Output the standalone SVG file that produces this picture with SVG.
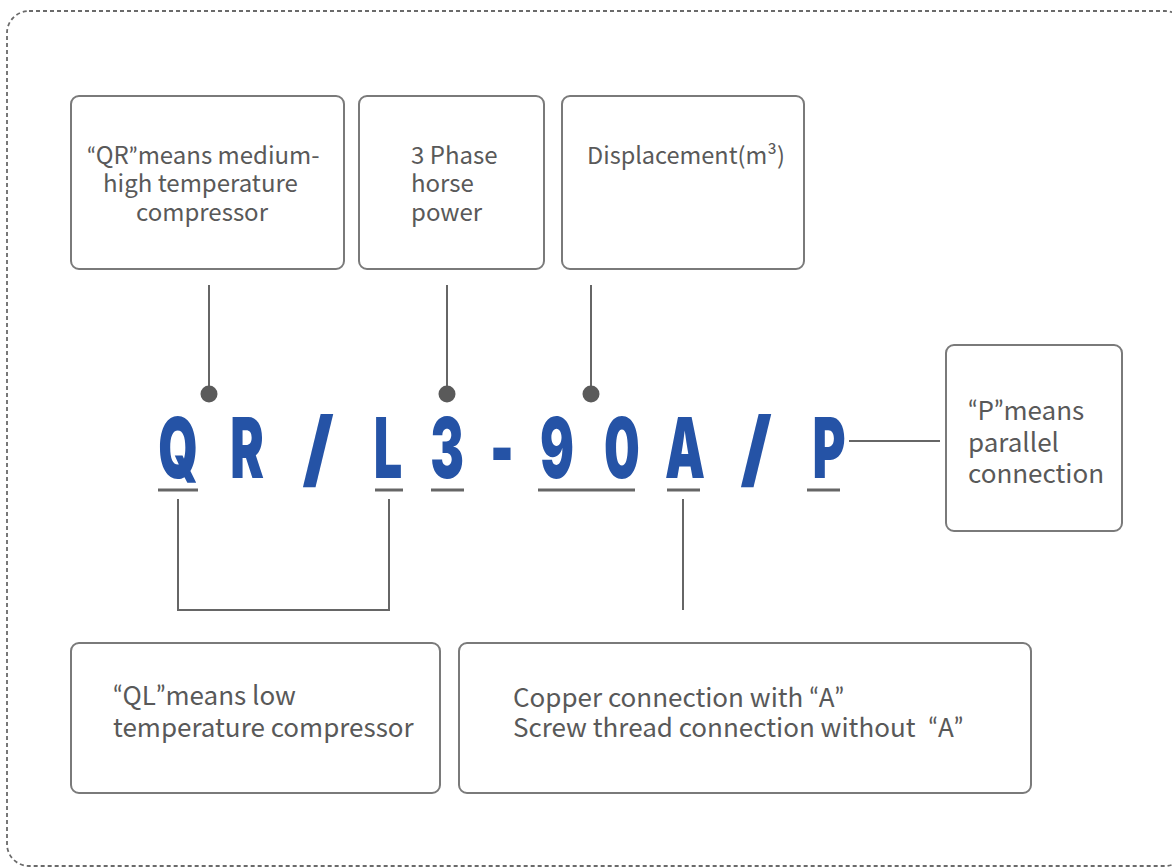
<svg xmlns="http://www.w3.org/2000/svg" width="1172" height="867" viewBox="0 0 1172 867">
<style>
.box{fill:#fff;stroke:#7a7a7a;stroke-width:2}
.t{font-family:"Noto Sans CJK SC","Noto Sans",sans-serif;font-size:26px;fill:#595959}
.s{font-size:24px}
.d{font-size:23.5px}
.q{font-family:Lato,"Liberation Sans",sans-serif}
.code{font-family:Inter,"DejaVu Sans",sans-serif;font-weight:900;font-size:84px;fill:#2553a6;text-anchor:middle}
.ln{stroke:#666;stroke-width:2;fill:none}
.ul{stroke:#666;stroke-width:3}
.dot{fill:#5a5a5a}
</style>
<rect x="0" y="0" width="1172" height="867" fill="#fff"/>
<rect x="7" y="11" width="1180" height="855" rx="22" fill="none" stroke="#6a6a6a" stroke-width="1.8" stroke-dasharray="4 3"/>

<g id="node-qr">
<rect class="box" x="71" y="96" width="273" height="173" rx="8"/>
<text class="t s" x="87" y="164"><tspan class="q">“</tspan>QR<tspan class="q">”</tspan>means medium-</text>
<text class="t s" x="103" y="192">high temperature</text>
<text class="t s" x="136" y="221">compressor</text>
</g>
<g id="node-hp">
<rect class="box" x="359" y="96" width="185" height="173" rx="8"/>
<text class="t s" x="411" y="164">3 Phase</text>
<text class="t s" x="411" y="192">horse</text>
<text class="t s" x="411" y="221">power</text>
</g>
<g id="node-disp">
<rect class="box" x="562" y="96" width="242" height="173" rx="8"/>
<text class="t d" x="587" y="164">Displacement(m³)</text>
</g>
<g id="node-p">
<rect class="box" x="946" y="345" width="176" height="186" rx="8"/>
<text class="t" x="968" y="420"><tspan class="q">“</tspan>P<tspan class="q">”</tspan>means</text>
<text class="t" x="968" y="452">parallel</text>
<text class="t" x="968" y="483">connection</text>
</g>
<g id="node-ql">
<rect class="box" x="71" y="643" width="369" height="150" rx="8"/>
<text class="t" x="113" y="705"><tspan class="q">“</tspan>QL<tspan class="q">”</tspan>means low</text>
<text class="t" x="113" y="737">temperature compressor</text>
</g>
<g id="node-a">
<rect class="box" x="459" y="643" width="572" height="150" rx="8"/>
<text class="t" x="513" y="707">Copper connection with <tspan class="q">“</tspan>A<tspan class="q">”</tspan></text>
<text class="t" x="513" y="737">Screw thread connection without <tspan class="q" dx="7">“</tspan>A<tspan class="q">”</tspan></text>
</g>

<g id="code">
<text class="code" transform="translate(178,478) scale(0.6,1)">Q</text>
<text class="code" transform="translate(247,478) scale(0.6,1)">R</text>
<text class="code" transform="translate(318,478) scale(0.9,1)">/</text>
<text class="code" transform="translate(388,478) scale(0.6,1)">L</text>
<text class="code" transform="translate(447,478) scale(0.6,1)">3</text>
<text class="code" transform="translate(502,478) scale(0.6,1)">-</text>
<text class="code" transform="translate(557,478) scale(0.6,1)">9</text>
<text class="code" transform="translate(622,478) scale(0.6,1)">0</text>
<text class="code" transform="translate(685,478) scale(0.6,1)">A</text>
<text class="code" transform="translate(756,478) scale(0.9,1)">/</text>
<text class="code" transform="translate(829,478) scale(0.6,1)">P</text>
</g>

<g id="connectors">
<line class="ul" x1="158" y1="490" x2="198" y2="490"/>
<line class="ul" x1="375" y1="490" x2="403" y2="490"/>
<line class="ul" x1="431" y1="490" x2="464" y2="490"/>
<line class="ul" x1="538" y1="490" x2="635" y2="490"/>
<line class="ul" x1="667" y1="490" x2="700" y2="490"/>
<line class="ul" x1="807" y1="490" x2="840" y2="490"/>
<line class="ln" x1="209" y1="285" x2="209" y2="394"/>
<circle class="dot" cx="209" cy="394" r="8.5"/>
<line class="ln" x1="447" y1="285" x2="447" y2="394"/>
<circle class="dot" cx="447" cy="394" r="8.5"/>
<line class="ln" x1="591" y1="285" x2="591" y2="394"/>
<circle class="dot" cx="591" cy="394" r="8.5"/>
<line class="ln" x1="849" y1="441" x2="940" y2="441"/>
<polyline class="ln" points="178,499 178,610 389,610 389,499"/>
<line class="ln" x1="683" y1="499" x2="683" y2="610"/>
</g>
</svg>
